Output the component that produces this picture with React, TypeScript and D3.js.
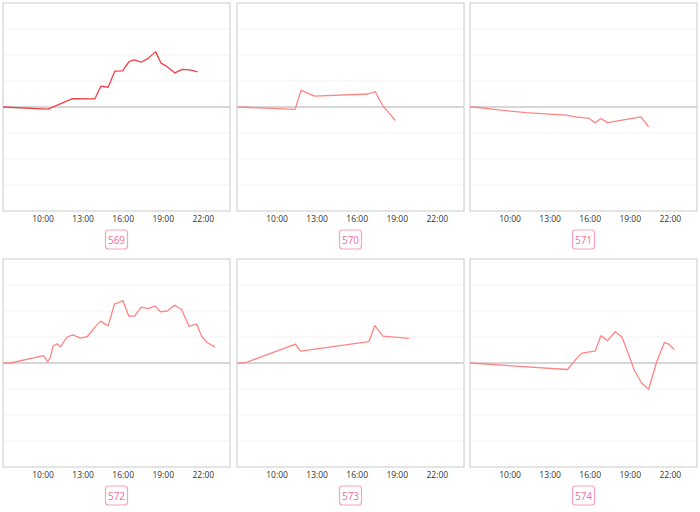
import React from "react";
import * as d3 from "d3";

// hours (decimal) and values for each panel
const names = ["569", "570", "571", "572", "573", "574"];

const t569 = [7.0, 10.375, 12.2, 13.875, 14.33, 14.875, 15.375, 15.95, 16.45, 16.8, 17.375, 17.875, 18.425, 18.825, 19.25, 19.875, 20.425, 21.0, 21.575];
const v569 = [0, -0.08, 0.32, 0.31, 0.8, 0.76, 1.38, 1.39, 1.75, 1.81, 1.73, 1.87, 2.13, 1.69, 1.57, 1.31, 1.45, 1.43, 1.35];

const t570 = [7.05, 11.35, 11.8, 12.8, 16.8, 17.35, 17.925, 18.3, 18.85];
const v570 = [0, -0.09, 0.65, 0.42, 0.5, 0.59, 0.04, -0.18, -0.52];

const t571 = [7.0, 7.425, 9.175, 11.175, 14.175, 14.925, 15.925, 16.375, 16.8, 17.3, 19.8, 20.375];
const v571 = [0, -0.01, -0.11, -0.22, -0.31, -0.38, -0.44, -0.61, -0.44, -0.6, -0.38, -0.76];

const t572 = [7.0, 7.55, 10.05, 10.35, 10.55, 10.75, 11.05, 11.3, 11.8, 12.225, 12.8, 13.3, 13.925, 14.3, 14.875, 15.35, 15.675, 15.975, 16.425, 16.85, 17.35, 17.85, 18.375, 18.8, 19.3, 19.85, 20.375, 20.925, 21.5, 21.875, 22.3, 22.875];
const v572 = [0, 0, 0.28, 0.04, 0.23, 0.65, 0.74, 0.62, 1.0, 1.08, 0.96, 1.01, 1.4, 1.61, 1.43, 2.27, 2.32, 2.4, 1.8, 1.8, 2.15, 2.09, 2.19, 1.97, 2.0, 2.22, 2.06, 1.41, 1.5, 1.03, 0.78, 0.62];

const t573 = [7.05, 7.575, 11.375, 11.75, 16.875, 17.325, 17.925, 19.875];
const v573 = [0, 0, 0.73, 0.46, 0.82, 1.44, 1.03, 0.95];

const t574 = [7.0, 14.3, 14.925, 15.35, 15.925, 16.375, 16.8, 17.3, 17.875, 18.375, 18.875, 19.3, 19.85, 20.375, 20.975, 21.55, 21.85, 22.3];
const v574 = [0, -0.25, 0.14, 0.37, 0.43, 0.46, 1.05, 0.86, 1.2, 1.0, 0.34, -0.28, -0.77, -1.01, 0.04, 0.78, 0.74, 0.52];

const times = [t569, t570, t571, t572, t573, t574];
const values = [v569, v570, v571, v572, v573, v574];

const tickHours = [10, 13, 16, 19, 22];
const tickLabels = ["10:00", "13:00", "16:00", "19:00", "22:00"];
const gridValues = [-3, -2, -1, 1, 2, 3];

const colLeft = [3, 237, 470];
const rowTop = [3, 259];
const panelW = 227;
const panelH = 208;

function Panel({ idx }: { idx: number }) {
  const col = idx % 3;
  const row = Math.floor(idx / 3);
  const x0 = colLeft[col];
  const y0 = rowTop[row];
  const x = d3.scaleLinear().domain([7, 24]).range([x0, x0 + panelW]);
  const y = d3.scaleLinear().domain([-4, 4]).range([y0 + panelH, y0]);
  const pts: [number, number][] = times[idx].map((t, i) => [t, values[idx][i]]);
  const line = d3
    .line<[number, number]>()
    .x((d) => x(d[0]))
    .y((d) => y(d[1]));
  const color = idx === 0 ? "#f43f46" : "#ff8585";
  const cx = x0 + panelW / 2;
  const labelY = y0 + panelH + 19;
  return (
    <g>
      {gridValues.map((g) => (
        <line key={g} x1={x0} x2={x0 + panelW} y1={y(g)} y2={y(g)} stroke="#f3f3f3" strokeWidth={1} />
      ))}
      <rect x={x0} y={y0} width={panelW} height={panelH} fill="none" stroke="#dcdcdc" strokeWidth={1.5} />
      <line x1={x0} x2={x0 + panelW} y1={y(0)} y2={y(0)} stroke="#c8c8c8" strokeWidth={1.5} />
      <path d={line(pts) || ""} fill="none" stroke={color} strokeWidth={1.3} strokeLinejoin="round" />
      {tickHours.map((h, i) => (
        <text
          key={h}
          x={x(h)}
          y={y0 + panelH + 11}
          textAnchor="middle"
          fontSize={8.5}
          fontFamily="'Open Sans', sans-serif"
          fill="#333"
        >
          {tickLabels[i]}
        </text>
      ))}
      <rect x={cx - 11} y={labelY} width={22} height={19} rx={3} ry={3} fill="#fff" stroke="#f7a3bd" strokeWidth={1.2} />
      <text
        x={cx}
        y={labelY + 13.5}
        textAnchor="middle"
        fontSize={10}
        fontFamily="'Open Sans', sans-serif"
        fill="#f36f98"
      >
        {names[idx]}
      </text>
    </g>
  );
}

export default function App() {
  return (
    <svg
      width={700}
      height={512}
      style={{ position: "absolute", left: 0, top: 0, background: "#fff" }}
    >
      {names.map((n, i) => (
        <Panel key={n} idx={i} />
      ))}
    </svg>
  );
}
